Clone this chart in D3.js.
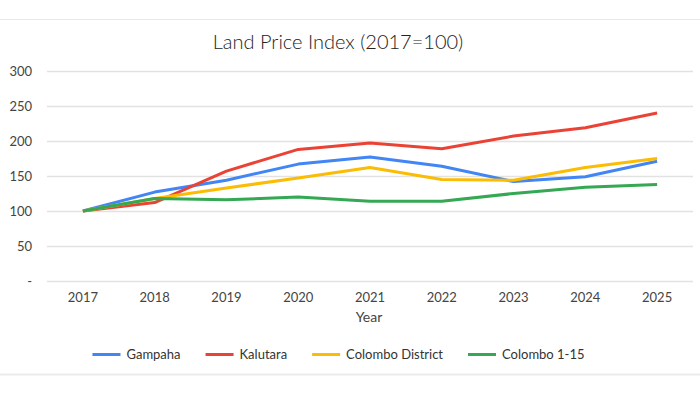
<!DOCTYPE html>
<html>
<head>
<meta charset="utf-8">
<script src="https://cdn.jsdelivr.net/npm/d3@7"></script>
<style>
  body { margin: 0; background: #fff; }
  svg { display: block; font-family: Lato, "Noto Sans", sans-serif; }
</style>
</head>
<body>
<div id="chart"></div>
<script>
// chart data
const years = ["2017", "2018", "2019", "2020", "2021", "2022", "2023", "2024", "2025"];
const seriesNames = ["Gampaha", "Kalutara", "Colombo District", "Colombo 1-15"];
const gampaha = [100, 127, 144, 167, 177, 164, 142, 149, 171];
const kalutara = [100, 112, 157, 188, 197, 189, 207, 219, 240];
const colomboDistrict = [100, 118, 133, 147, 162, 145, 144, 162, 175];
const colombo115 = [100, 118, 116, 120, 114, 114, 125, 134, 138];
const yTicks = [0, 50, 100, 150, 200, 250, 300];
const colors = ["#4285F4", "#EA4335", "#FBBC04", "#34A853"];

const W = 700, H = 394;
const svg = d3.select("#chart").append("svg").attr("width", W).attr("height", H);

// frame lines top / bottom
svg.append("line").attr("x1", 0).attr("x2", W).attr("y1", 19.5).attr("y2", 19.5)
  .attr("stroke", "#e8e8e8").attr("stroke-width", 1);
svg.append("line").attr("x1", 0).attr("x2", W).attr("y1", 374.5).attr("y2", 374.5)
  .attr("stroke", "#ececec").attr("stroke-width", 2);

svg.append("text").attr("x", 338).attr("y", 49).attr("text-anchor", "middle")
  .attr("font-size", 20).attr("font-weight", 300).attr("fill", "#222")
  .text("Land Price Index (2017=100)");

const x = d3.scalePoint().domain(years).range([47, 693]).padding(0.5);
const y = d3.scaleLinear().domain([0, 300]).range([281, 71]);

// grid
svg.append("g").selectAll("line").data(yTicks).join("line")
  .attr("x1", 47).attr("x2", 693)
  .attr("y1", d => Math.round(y(d)) + 0.5).attr("y2", d => Math.round(y(d)) + 0.5)
  .attr("stroke", "#e2e2e2").attr("stroke-width", 1.5);

// y labels
svg.append("g").selectAll("text").data(yTicks).join("text")
  .attr("x", 32).attr("y", d => y(d) + 4.5).attr("text-anchor", "end")
  .attr("font-size", 13).attr("fill", "#444")
  .text(d => d === 0 ? "-" : d);

// x labels
svg.append("g").selectAll("text").data(years).join("text")
  .attr("x", d => x(d)).attr("y", 301.5).attr("text-anchor", "middle")
  .attr("font-size", 13).attr("fill", "#444")
  .text(d => d);

svg.append("text").attr("x", 369).attr("y", 322).attr("text-anchor", "middle")
  .attr("font-size", 14).attr("fill", "#444").text("Year");

// lines
const allSeries = [gampaha, kalutara, colomboDistrict, colombo115];
const line = d3.line().x((d, i) => x(years[i])).y(d => y(d));
svg.append("g").selectAll("path").data(allSeries).join("path")
  .attr("d", line).attr("fill", "none")
  .attr("stroke", (d, i) => colors[i]).attr("stroke-width", 3)
  .attr("stroke-linejoin", "round");

// legend
const lg = svg.append("g");
const items = lg.selectAll("g").data(seriesNames).join("g");
items.append("line").attr("x1", 0).attr("x2", 28).attr("y1", 354.5).attr("y2", 354.5)
  .attr("stroke", (d, i) => colors[i]).attr("stroke-width", 3);
items.append("text").attr("x", 34).attr("y", 359).attr("font-size", 13).attr("fill", "#333")
  .text(d => d);
let widths = [];
items.each(function() { widths.push(34 + d3.select(this).select("text").node().getComputedTextLength()); });
const gap = 25;
const total = d3.sum(widths) + gap * (widths.length - 1);
let cx = 338.5 - total / 2;
items.attr("transform", (d, i) => {
  const t = `translate(${cx},0)`;
  cx += widths[i] + gap;
  return t;
});
</script>
</body>
</html>
